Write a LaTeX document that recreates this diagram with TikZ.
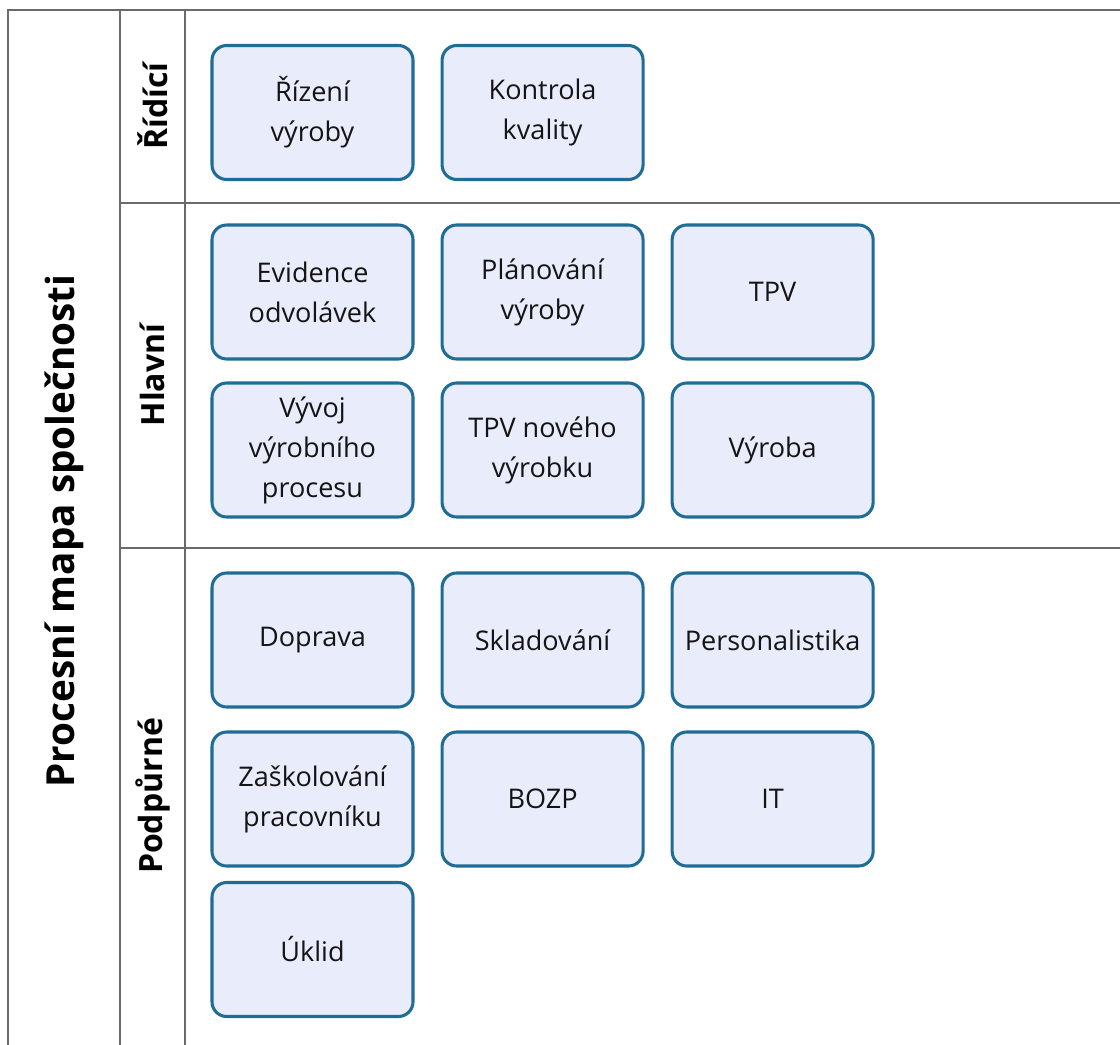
\documentclass[tikz,border=0pt]{standalone}
\usepackage{fontspec}
\setmainfont{Open Sans}
\usetikzlibrary{positioning}
\definecolor{framegray}{HTML}{6A6A6A}
\definecolor{procblue}{HTML}{1F6C96}
\definecolor{procfill}{HTML}{E9ECFB}
\newcommand\procfont{\fontsize{20.3}{30}\selectfont}
\newcommand\groupfont{\fontsize{24}{28}\selectfont\bfseries}
\newcommand\titlefont{\fontsize{29}{34}\selectfont\bfseries}
\tikzset{
    process map/.style = {x=0.75pt, y=-0.75pt},
    frame/.style       = {draw=framegray, line width=1.7pt},
    proc/.style        = {draw=procblue, line width=2.3pt, fill=procfill,
                          rounded corners=11pt, align=center,
                          minimum width=150.75pt, minimum height=100.5pt,
                          inner sep=2pt, font=\procfont, text=black!92},
    group/.style       = {rotate=90, font=\groupfont, text=black},
    maptitle/.style    = {rotate=90, font=\titlefont, text=black}
}
\begin{document}
\begin{tikzpicture}[process map]

\useasboundingbox (0,0) rectangle (1120,1045);

% table frame
\coordinate (tl) at (8,10);
\coordinate (tr) at (1120,10);
\draw[frame] (8,1045) -- (tl) -- (tr);
\draw[frame] (120,10) -- (120,1045);
\draw[frame] (185,10) -- (185,1045);
\draw[frame] (120,203) -- (1120,203);
\draw[frame] (120,548) -- (1120,548);

\node[maptitle] (title) at (64,531) {Procesní mapa společnosti};

\node[group] (ridici)   at (152.5,106) {Řídící};
\node[group] (hlavni)   at (152.5,375) {Hlavní};
\node[group] (podpurne) at (152.5,796) {Podpůrné};

% ridici
\node[proc] (rizeni)   at (312.5,112.5) {Řízení\\výroby};
\node[proc, right=19.5pt of rizeni] (kontrola) {Kontrola\\kvality};

% hlavni
\node[proc] (evidence) at (312.5,292) {Evidence\\odvolávek};
\node[proc, right=19.5pt of evidence] (planovani) {Plánování\\výroby};
\node[proc, right=19.5pt of planovani] (tpv) {TPV};
\node[proc] (vyvoj)    at (312.5,450) {Vývoj\\výrobního\\procesu};
\node[proc, right=19.5pt of vyvoj] (tpvnovy) {TPV nového\\výrobku};
\node[proc, right=19.5pt of tpvnovy] (vyroba) {Výroba};

% podpurne
\node[proc] (doprava)  at (312.5,640) {Doprava};
\node[proc, right=19.5pt of doprava] (sklad) {Skladování};
\node[proc, right=19.5pt of sklad] (personal) {Personalistika};
\node[proc] (skoleni)  at (312.5,799) {Zaškolování\\pracovníku};
\node[proc, right=19.5pt of skoleni] (bozp) {BOZP};
\node[proc, right=19.5pt of bozp] (it) {IT};
\node[proc] (uklid)    at (312.5,949.5) {Úklid};

\end{tikzpicture}
\end{document}
